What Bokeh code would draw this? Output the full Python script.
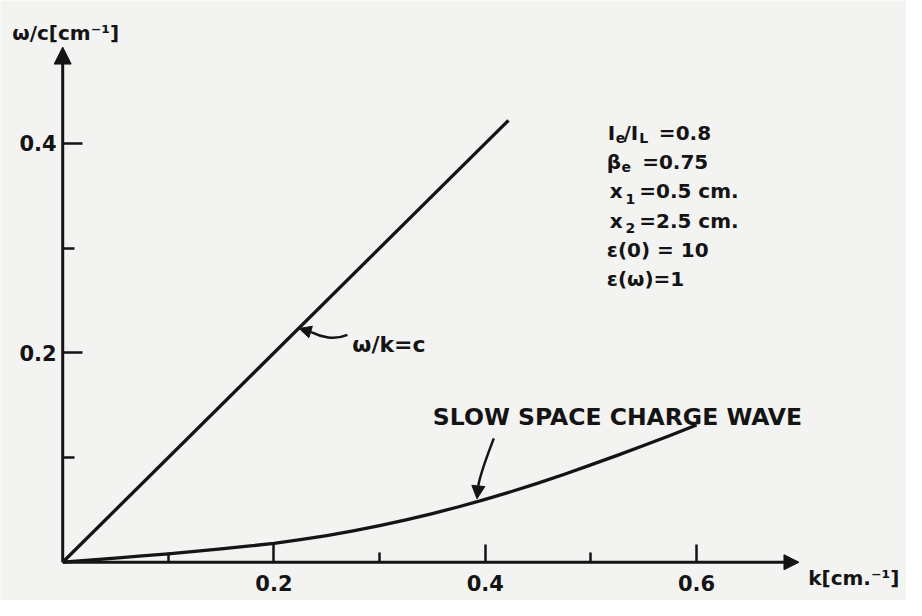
from bokeh.plotting import figure
from bokeh.models import Range1d, FixedTicker, Arrow, NormalHead, Label, LinearAxis
from bokeh.embed import file_html
from bokeh.resources import INLINE

# ---------------- data ----------------
k_light = [0.0, 0.422]                      # omega/k = c line
w_light = [0.0, 0.422]
k_slow = [0.0, 0.025, 0.05, 0.075, 0.10, 0.125, 0.15, 0.175, 0.20, 0.225, 0.25, 0.275, 0.30,
          0.325, 0.35, 0.375, 0.40, 0.425, 0.45, 0.475, 0.50, 0.525, 0.55, 0.575, 0.60]
w_slow = [0.0, 0.002, 0.004, 0.006, 0.008, 0.0103, 0.0128, 0.0153, 0.018, 0.0215, 0.0255, 0.030, 0.035,
          0.0405, 0.0465, 0.053, 0.060, 0.0675, 0.0755, 0.084, 0.093, 0.102, 0.1115, 0.121, 0.131]
x_major = [0.2, 0.4, 0.6]
x_minor = [0.1, 0.3, 0.5]
y_major = [0.2, 0.4]
y_minor = [0.1, 0.3]
x_axis_end = 0.697
y_axis_end = 0.492

# ---------------- layout helpers ----------------
W, H = 906, 600
REF_W, REF_H = 922, 616
fx, fy = W / REF_W, H / REF_H
S_ref = 1075.0               # reference pixels per data unit
X0, Y0 = 63.3, 576.7         # reference position of the origin
Sx, Sy = S_ref * fx, S_ref * fy

def dk(px):
    return (px - X0) / S_ref
def dw(py):
    return (Y0 - py) / S_ref

INK = "#141414"
BG = "#f3f3f2"
FONT = "DejaVu Sans"

p = figure(width=W, height=H, output_backend="svg", toolbar_location=None,
           x_range=Range1d(-X0 * fx / Sx, (W - X0 * fx) / Sx),
           y_range=Range1d(-(H - Y0 * fy) / Sy, Y0 * fy / Sy),
           min_border_left=0, min_border_right=0, min_border_top=0, min_border_bottom=0,
           x_axis_location=None, y_axis_location=None)
p.background_fill_color = BG
p.border_fill_color = BG
p.outline_line_color = None
p.grid.visible = False

xa = LinearAxis(ticker=FixedTicker(ticks=x_major, minor_ticks=x_minor), fixed_location=0)
ya = LinearAxis(ticker=FixedTicker(ticks=y_major, minor_ticks=y_minor), fixed_location=0)
for ax, tin, tmin in ((xa, 18, 10), (ya, 20, 12)):
    ax.axis_line_alpha = 0
    ax.major_tick_in = tin
    ax.major_tick_out = 0
    ax.minor_tick_in = tmin
    ax.minor_tick_out = 0
    ax.major_tick_line_width = 2.5
    ax.minor_tick_line_width = 2.5
    ax.major_tick_line_color = INK
    ax.minor_tick_line_color = INK
    ax.major_label_text_font = FONT
    ax.major_label_text_font_style = "bold"
    ax.major_label_text_font_size = "21px"
    ax.major_label_text_color = INK
xa.major_label_standoff = 13
ya.major_label_standoff = 6
p.add_layout(xa, "below")
p.add_layout(ya, "left")

# axis lines with arrow heads
p.add_layout(Arrow(x_start=0, y_start=0, x_end=x_axis_end, y_end=0, line_width=3, line_color=INK,
                   end=NormalHead(size=15, fill_color=INK, line_color=INK, line_width=1)))
p.add_layout(Arrow(x_start=0, y_start=0, x_end=0, y_end=y_axis_end, line_width=3, line_color=INK,
                   end=NormalHead(size=17, fill_color=INK, line_color=INK, line_width=1)))

# curves
p.line(k_light, w_light, line_width=3.3, line_color=INK)
p.line(k_slow, w_slow, line_width=3.3, line_color=INK, line_join="round")

# pointer for omega/k=c
p.bezier(x0=[0.2695], y0=[0.2172], x1=[0.236], y1=[0.2195],
         cx0=[0.2574], cy0=[0.2119], cx1=[0.2444], cy1=[0.2150],
         line_width=2.5, line_color=INK)
p.add_layout(Arrow(x_start=0.236, y_start=0.2195, x_end=0.2238, y_end=0.2232, line_width=2.5,
                   line_color=INK, end=NormalHead(size=12, fill_color=INK, line_color=INK, line_width=1)))

# pointer for slow wave
p.bezier(x0=[0.4081], y0=[0.1183], x1=[0.3935], y1=[0.0735],
         cx0=[0.4025], cy0=[0.1030], cx1=[0.3960], cy1=[0.0870],
         line_width=2.5, line_color=INK)
p.add_layout(Arrow(x_start=0.3935, y_start=0.0735, x_end=0.3922, y_end=0.0605, line_width=2.5,
                   line_color=INK, end=NormalHead(size=13, fill_color=INK, line_color=INK, line_width=1)))

def lab(text, px, py, size=20, anchor="left"):
    p.add_layout(Label(x=dk(px), y=dw(py), text=text, text_font=FONT, text_font_style="bold",
                       text_font_size=f"{size}px", text_color=INK, text_align=anchor,
                       text_baseline="alphabetic"))

lab("ω/k=c", 358, 353, 22)
lab("SLOW SPACE CHARGE WAVE", 440, 428, 23.5)
lab("ω/c[cm⁻¹]", 12, 33, 20)
lab("k[cm.⁻¹]", 822, 593, 20)

# parameter block
lab("I", 618, 136); lab("e", 626, 141, 14); lab("/I", 634, 136); lab("L", 650, 141, 14); lab("=0.8", 670, 136)
lab("β", 617, 166); lab("e", 632, 171, 14); lab("=0.75", 653, 166)
lab("x", 620, 196); lab("1", 636, 204, 14); lab("=0.5 cm.", 650, 196)
lab("x", 620, 226); lab("2", 636, 234, 14); lab("=2.5 cm.", 650, 226)
lab("ε(0) = 10", 617, 256)
lab("ε(ω)=1", 617, 286)

open("out.html", "w").write(file_html(p, INLINE))
